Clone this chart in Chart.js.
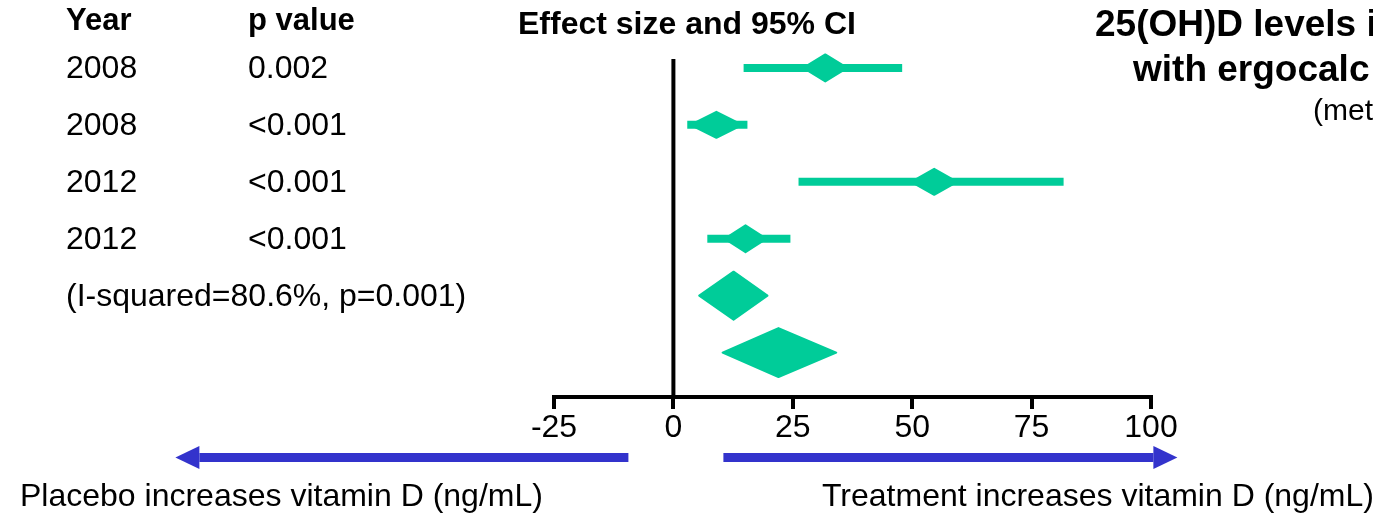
<!DOCTYPE html>
<html>
<head>
<meta charset="utf-8">
<script src="https://cdn.jsdelivr.net/npm/chart.js@4.4.1/dist/chart.umd.min.js"></script>
<style>
  html, body { margin: 0; padding: 0; background: #fff; }
</style>
</head>
<body>
<canvas id="forest" width="1373" height="513"></canvas>
<script>
// study rows
const years = ['2008', '2008', '2012', '2012'];
const pValues = ['0.002', '<0.001', '<0.001', '<0.001'];
const heterogeneity = '(I-squared=80.6%, p=0.001)';
const rows = [1, 2, 3, 4, 5, 6];
const estimates = [31.8, 9.0, 54.6, 15.1, 12.6, 22.0];
const lowerCI = [14.7, 2.9, 26.2, 7.1, 5.4, 10.3];
const upperCI = [47.9, 15.5, 81.7, 24.5, 19.7, 34.1];
const pooled = [false, false, false, false, true, true];
const xTicks = [-25, 0, 25, 50, 75, 100];

const FONT = "'Liberation Sans', Arial, sans-serif";
const green = '#00cc99';
const blue = '#3333cc';

// marker sizes (px)
const markerHalfW = [22, 26, 23, 21, 0, 0];
const markerHalfH = [13.5, 13, 13, 13.5, 24, 24.5];

let ciSets = [];
for (let i = 0; i < rows.length; i++) {
  if (pooled[i]) continue;
  ciSets.push({
    data: [{x: lowerCI[i], y: rows[i]}, {x: upperCI[i], y: rows[i]}],
    showLine: true,
    borderColor: green,
    backgroundColor: green,
    borderWidth: 8,
    borderCapStyle: 'butt',
    pointRadius: 0
  });
}

function arrow(ctx, from, to, y) {
  const dir = to > from ? 1 : -1;
  const base = to - dir * 24;
  ctx.fillStyle = blue;
  ctx.fillRect(Math.min(from, base), y - 4.5, Math.abs(base - from), 9);
  ctx.beginPath();
  ctx.moveTo(base, y - 11.5);
  ctx.lineTo(to, y);
  ctx.lineTo(base, y + 11.5);
  ctx.closePath();
  ctx.fill();
}

const forestExtras = {
  id: 'forestExtras',
  afterDatasetsDraw(chart) {
    const ctx = chart.ctx;
    const xs = chart.scales.x, ys = chart.scales.y;
    const x0 = xs.getPixelForValue(0);
    ctx.save();
    // line of no effect
    ctx.strokeStyle = '#000';
    ctx.lineWidth = 4;
    ctx.beginPath();
    ctx.moveTo(x0, ys.getPixelForValue(rows[0]) - 9);
    ctx.lineTo(x0, chart.chartArea.bottom);
    ctx.stroke();

    // diamonds
    ctx.fillStyle = green;
    ctx.strokeStyle = green;
    ctx.lineWidth = 2;
    ctx.lineJoin = 'round';
    for (let i = 0; i < rows.length; i++) {
      const cx = xs.getPixelForValue(estimates[i]);
      const cy = ys.getPixelForValue(rows[i]);
      let l = cx - markerHalfW[i], r = cx + markerHalfW[i];
      if (pooled[i]) {
        l = xs.getPixelForValue(lowerCI[i]);
        r = xs.getPixelForValue(upperCI[i]);
      }
      const hh = markerHalfH[i];
      ctx.beginPath();
      ctx.moveTo(l, cy);
      ctx.lineTo(cx, cy - hh);
      ctx.lineTo(r, cy);
      ctx.lineTo(cx, cy + hh);
      ctx.closePath();
      ctx.fill();
      ctx.stroke();
    }
    ctx.restore();
  },
  afterDraw(chart) {
    const ctx = chart.ctx;
    const xs = chart.scales.x, ys = chart.scales.y;
    const x0 = xs.getPixelForValue(0);
    ctx.save();
    ctx.fillStyle = '#000';
    ctx.textBaseline = 'alphabetic';
    ctx.textAlign = 'left';

    ctx.font = 'bold 31px ' + FONT;
    ctx.fillText('Year', 66, 30);
    ctx.fillText('p value', 248, 30);
    ctx.font = 'bold 32px ' + FONT;
    ctx.fillText('Effect size and 95% CI', 518, 34);

    ctx.font = '32px ' + FONT;
    for (let i = 0; i < years.length; i++) {
      const by = ys.getPixelForValue(rows[i]) + 10;
      ctx.fillText(years[i], 66, by);
      ctx.fillText(pValues[i], 248, by);
    }
    ctx.fillText(heterogeneity, 66, ys.getPixelForValue(rows[4]) + 10);

    // title (cut by the right edge)
    ctx.font = 'bold 37px ' + FONT;
    ctx.fillText('25(OH)D levels i', 1095, 36);
    ctx.fillText('with ergocalc', 1133, 81);
    ctx.font = '30px ' + FONT;
    ctx.fillText('(met', 1313, 120);

    // direction arrows and labels
    arrow(ctx, x0 - 45, x0 - 498, 457.5);
    arrow(ctx, x0 + 50, x0 + 504, 457.5);
    ctx.fillStyle = '#000';
    ctx.font = '32px ' + FONT;
    ctx.fillText('Placebo increases vitamin D (ng/mL)', 20, 506);
    ctx.fillText('Treatment increases vitamin D (ng/mL)', 822, 506);
    ctx.restore();
  }
};

const ctx = document.getElementById('forest').getContext('2d');
const chart = new Chart(ctx, {
  type: 'scatter',
  data: { datasets: ciSets },
  plugins: [forestExtras],
  options: {
    responsive: false,
    animation: false,
    layout: { padding: { left: 554, right: 222, top: 11, bottom: 0 } },
    plugins: {
      legend: { display: false },
      tooltip: { enabled: false }
    },
    scales: {
      x: {
        type: 'linear',
        min: -25,
        max: 100,
        afterBuildTicks(scale) {
          scale.ticks = xTicks.map(v => ({ value: v }));
        },
        afterFit(scale) {
          scale.height = 116;
        },
        ticks: {
          color: '#000',
          padding: 0,
          maxRotation: 0,
          font: { family: FONT, size: 32 }
        },
        grid: {
          drawOnChartArea: false,
          drawTicks: true,
          tickLength: 12,
          lineWidth: 4,
          color: '#000'
        },
        border: { display: true, width: 4, color: '#000' }
      },
      y: {
        type: 'linear',
        min: 0,
        max: 6.78,
        reverse: true,
        display: false
      }
    }
  }
});
</script>
</body>
</html>
